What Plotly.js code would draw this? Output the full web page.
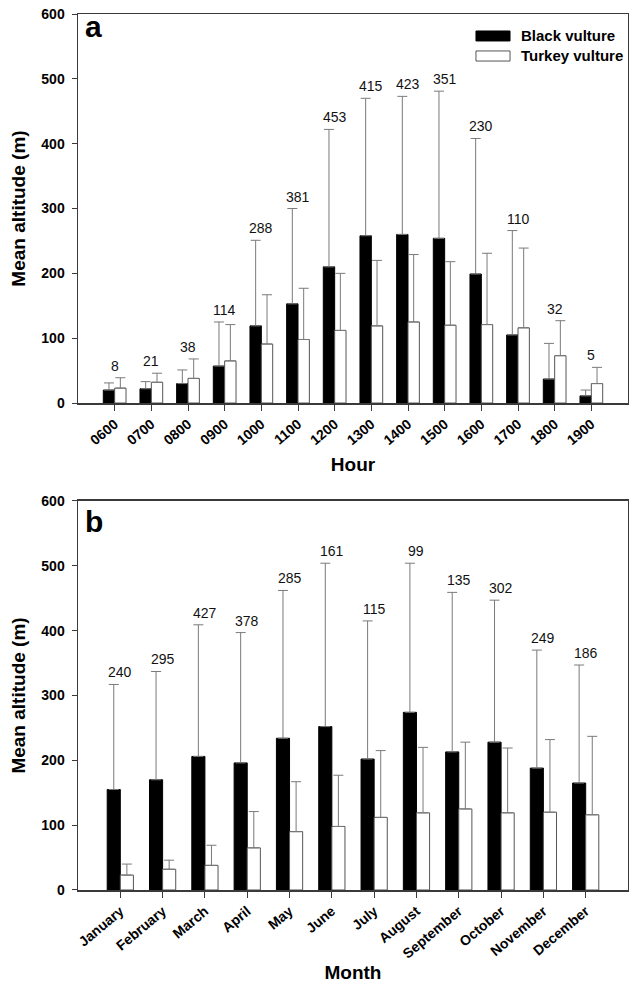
<!DOCTYPE html>
<html>
<head>
<meta charset="utf-8">
<script src="https://cdn.plot.ly/plotly-3.0.1.min.js"></script>
<style>html,body{margin:0;padding:0;background:#fff;}#chart{width:629px;height:983px;}</style>
</head>
<body>
<div id="chart"></div>
<script>
// ---- Panel a: by hour ----
const hours = ['0600','0700','0800','0900','1000','1100','1200','1300','1400','1500','1600','1700','1800','1900'];
const blackHourMean = [20, 22, 30, 57, 119, 153, 210, 258, 260, 254, 199, 105, 37, 11];
const blackHourSD   = [11, 11, 21, 68, 132, 147, 212, 212, 213, 227, 209, 161, 55, 9];
const turkeyHourMean = [23, 32, 38, 65, 91, 98, 112, 119, 125, 120, 121, 116, 73, 30];
const turkeyHourSD   = [16, 14, 30, 56, 76, 79, 88, 101, 104, 98, 110, 123, 54, 25];
const hourN = ['8','21','38','114','288','381','453','415','423','351','230','110','32','5'];

// ---- Panel b: by month ----
const months = ['January','February','March','April','May','June','July','August','September','October','November','December'];
const blackMonthMean = [155, 170, 206, 196, 234, 252, 202, 274, 213, 228, 188, 165];
const blackMonthSD   = [162, 167, 203, 201, 228, 252, 213, 230, 246, 219, 182, 182];
const turkeyMonthMean = [23, 32, 38, 65, 90, 98, 112, 119, 125, 119, 120, 116];
const turkeyMonthSD   = [17, 14, 31, 56, 77, 79, 103, 101, 103, 100, 112, 121];
const monthN = ['240','295','427','378','285','161','115','99','135','302','249','186'];

const yTicks = [0, 100, 200, 300, 400, 500, 600];
const seriesNames = ['Black vulture', 'Turkey vulture'];

const FONT = 'Liberation Sans, Arial, Helvetica, sans-serif';
const ERRCOL = '#7a7a7a';
const zeros = n => new Array(n).fill(0);

function barTrace(x, y, sd, name, fill, xa, ya) {
  return {
    type: 'bar', x: x, y: y, name: name, xaxis: xa, yaxis: ya, showlegend: false,
    marker: {color: fill, line: {color: fill === '#000000' ? '#000000' : '#555555', width: 1}},
    error_y: {type: 'data', symmetric: false, array: sd, arrayminus: zeros(sd.length),
              color: ERRCOL, thickness: 1, width: 5},
    hoverinfo: 'x+y'
  };
}

const data = [
  barTrace(hours, blackHourMean, blackHourSD, seriesNames[0], '#000000', 'x', 'y'),
  barTrace(hours, turkeyHourMean, turkeyHourSD, seriesNames[1], '#ffffff', 'x', 'y'),
  barTrace(months, blackMonthMean, blackMonthSD, seriesNames[0], '#000000', 'x2', 'y2'),
  barTrace(months, turkeyMonthMean, turkeyMonthSD, seriesNames[1], '#ffffff', 'x2', 'y2')
];

const annotations = [];
function addCounts(cats, bm, bs, tm, ts, labels, xa, ya) {
  cats.forEach((c, i) => {
    annotations.push({
      x: i, y: Math.max(bm[i] + bs[i], tm[i] + ts[i]), xref: xa, yref: ya,
      text: labels[i], showarrow: false, yanchor: 'bottom', yshift: 2,
      font: {family: FONT, size: 14, color: '#111'}
    });
  });
}
addCounts(hours, blackHourMean, blackHourSD, turkeyHourMean, turkeyHourSD, hourN, 'x', 'y');
addCounts(months, blackMonthMean, blackMonthSD, turkeyMonthMean, turkeyMonthSD, monthN, 'x2', 'y2');

// panel letters
annotations.push({xref: 'paper', yref: 'paper', x: 0.009, y: 0.986, xanchor: 'left', yanchor: 'middle',
  text: '<b>a</b>', showarrow: false, font: {family: FONT, size: 30, color: '#000'}});
annotations.push({xref: 'paper', yref: 'paper', x: 0.009, y: 0.421, xanchor: 'left', yanchor: 'middle',
  text: '<b>b</b>', showarrow: false, font: {family: FONT, size: 30, color: '#000'}});

// legend text
annotations.push({xref: 'paper', yref: 'paper', x: 0.8018, y: 0.9749, xanchor: 'left', yanchor: 'middle',
  text: '<b>' + seriesNames[0] + '</b>', showarrow: false, font: {family: FONT, size: 15, color: '#000'}});
annotations.push({xref: 'paper', yref: 'paper', x: 0.8018, y: 0.9521, xanchor: 'left', yanchor: 'middle',
  text: '<b>' + seriesNames[1] + '</b>', showarrow: false, font: {family: FONT, size: 15, color: '#000'}});

const shapes = [
  {type: 'rect', xref: 'paper', yref: 'paper', x0: 0.7236, x1: 0.7855, y0: 0.9692, y1: 0.9806,
   fillcolor: '#000', line: {color: '#000', width: 1}},
  {type: 'rect', xref: 'paper', yref: 'paper', x0: 0.7236, x1: 0.7855, y0: 0.9463, y1: 0.9578,
   fillcolor: '#fff', line: {color: '#555', width: 1}}
];

function xaxisDef(range, title, anchor) {
  return {
    type: 'category', range: range, anchor: anchor,
    showline: true, linecolor: '#3a3a3a', linewidth: 1.5, mirror: true,
    ticks: 'outside', ticklen: 6, tickcolor: '#3a3a3a', tickwidth: 1,
    tickangle: -40, showgrid: false, zeroline: false,
    tickfont: {family: FONT, size: 14, color: '#000', weight: 'bold'},
    title: {text: '<b>' + title + '</b>', font: {family: FONT, size: 19, color: '#000'}, standoff: 10}
  };
}
function yaxisDef(domain, anchor) {
  return {
    domain: domain, anchor: anchor, range: [0, 600], tickvals: yTicks, ticktext: yTicks.map(String),
    showline: true, linecolor: '#3a3a3a', linewidth: 1.5, mirror: true,
    ticks: 'outside', ticklen: 5, tickcolor: '#3a3a3a', tickwidth: 1,
    showgrid: false, zeroline: false, ticklabelstandoff: 4,
    tickfont: {family: FONT, size: 14, color: '#000', weight: 'bold'},
    title: {text: '<b>Mean altitude (m)</b>', font: {family: FONT, size: 19, color: '#000'}, standoff: 10}
  };
}

const layout = {
  width: 629, height: 983,
  margin: {l: 78, r: 1, t: 14, b: 93},
  paper_bgcolor: '#fff', plot_bgcolor: '#fff',
  barmode: 'group', bargap: 0.38, bargroupgap: 0,
  font: {family: FONT, color: '#000'},
  xaxis: xaxisDef([-1, 14], 'Hour', 'y'),
  yaxis: yaxisDef([0.5559, 1], 'x'),
  xaxis2: xaxisDef([-1, 12], 'Month', 'y2'),
  yaxis2: yaxisDef([0, 0.4441], 'x2'),
  annotations: annotations,
  shapes: shapes,
  showlegend: false
};

Plotly.newPlot('chart', data, layout, {staticPlot: true, displayModeBar: false});
</script>
</body>
</html>
